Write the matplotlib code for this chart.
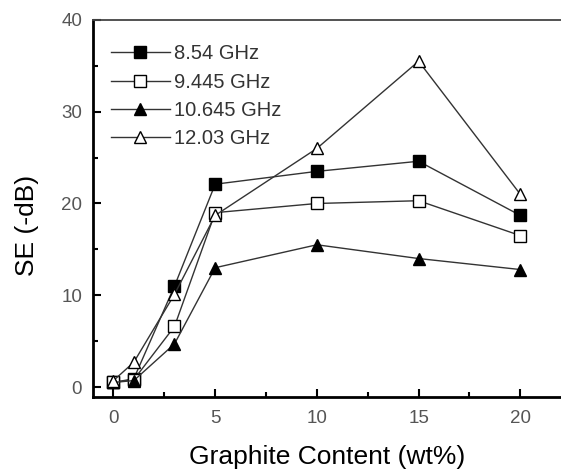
import matplotlib.pyplot as plt
from matplotlib.ticker import MultipleLocator

plt.rcParams["font.family"] = ["Liberation Sans", "DejaVu Sans"]

graphite = [0, 1, 3, 5, 10, 15, 20]
se_854 = [0.5, 0.9, 11.0, 22.1, 23.5, 24.6, 18.7]
se_9445 = [0.5, 0.8, 6.6, 19.0, 20.0, 20.3, 16.5]
se_10645 = [0.5, 0.7, 4.7, 13.0, 15.5, 14.0, 12.8]
se_1203 = [0.7, 2.7, 10.1, 18.7, 26.0, 35.5, 21.0]

series = [
    ("8.54 GHz", se_854, "s", "black"),
    ("9.445 GHz", se_9445, "s", "white"),
    ("10.645 GHz", se_10645, "^", "black"),
    ("12.03 GHz", se_1203, "^", "white"),
]

fig = plt.figure(figsize=(5.61, 4.75), dpi=100)
ax = fig.add_axes([0.166, 0.164, 0.834, 0.794])

for label, y, marker, face in series:
    ax.plot(graphite, y, marker=marker, color="#333333", linewidth=1.0,
            markersize=8, markerfacecolor=face, markeredgecolor="black",
            markeredgewidth=1.0, label=label)

ax.set_xlim(-1, 22)
ax.set_ylim(-1.1, 40)
ax.xaxis.set_major_locator(MultipleLocator(5))
ax.xaxis.set_minor_locator(MultipleLocator(2.5))
ax.yaxis.set_major_locator(MultipleLocator(10))
ax.yaxis.set_minor_locator(MultipleLocator(5))
ax.tick_params(which="both", direction="in", width=1.5, labelsize=13.5,
               labelcolor="#555555")
ax.tick_params(axis="x", pad=9)
ax.tick_params(axis="y", pad=8)
ax.tick_params(which="major", length=6)
ax.tick_params(which="minor", length=3.5)

ax.spines["right"].set_visible(False)
ax.spines["left"].set_linewidth(2)
ax.spines["bottom"].set_linewidth(2)
ax.spines["top"].set_linewidth(1.3)
ax.spines["top"].set_color("#444444")

ax.set_xlabel("Graphite Content (wt%)", fontsize=19, labelpad=13)
ax.set_ylabel("SE (-dB)", fontsize=19, labelpad=6)
ax.yaxis.set_label_coords(-0.115, 0.455)

ax.legend(loc="upper left", bbox_to_anchor=(0.0, 0.983), frameon=False,
          fontsize=14.5, handlelength=2.9, handletextpad=0.2,
          labelspacing=0.45, labelcolor="#333333")

fig.savefig("out.png", dpi=100)
